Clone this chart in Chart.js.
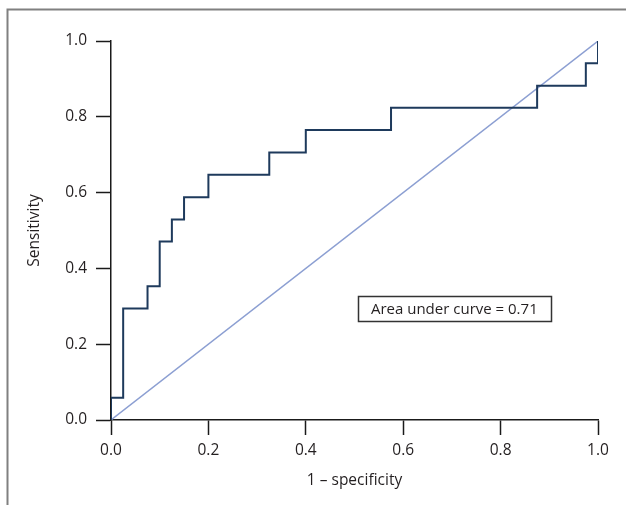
<!DOCTYPE html>
<html>
<head>
<meta charset="utf-8">
<script src="https://cdn.jsdelivr.net/npm/chart.js@4"></script>
<style>
  html, body { margin: 0; padding: 0; background: #fff; }
  #rocChart { display: block; }
</style>
</head>
<body>
<canvas id="rocChart" width="626" height="505"></canvas>
<script>
// ROC curve (17 positives, 40 negatives)
const falsePositiveRate = [0, 0, 0.025, 0.075, 0.1, 0.125, 0.15, 0.2, 0.325, 0.4, 0.575, 0.875, 0.975, 1];
const truePositiveRate = [0, 0.059, 0.294, 0.353, 0.471, 0.529, 0.588, 0.647, 0.706, 0.765, 0.824, 0.882, 0.941, 1];
const chanceX = [0, 1];
const chanceY = [0, 1];
const tickValues = [0, 0.2, 0.4, 0.6, 0.8, 1.0];
const aucLabel = 'Area under curve = 0.71';

const FONT = '"Open Sans", "Noto Sans", sans-serif';
const INK = '#231f20';

document.addEventListener('DOMContentLoaded', () => {
  const canvas = document.getElementById('rocChart');

  // gray frame in the corner and the AUC box
  const decorations = {
    id: 'decorations',
    beforeDraw(chart) {
      const ctx = chart.ctx;
      ctx.save();
      ctx.fillStyle = '#fff';
      ctx.fillRect(0, 0, chart.width, chart.height);
      ctx.strokeStyle = '#808080';
      ctx.lineWidth = 2;
      ctx.beginPath();
      ctx.moveTo(7.5, chart.height);
      ctx.lineTo(7.5, 9.5);
      ctx.lineTo(chart.width, 9.5);
      ctx.stroke();
      ctx.restore();
    },
    afterDatasetsDraw(chart) {
      const ctx = chart.ctx;
      const cx = chart.scales.x.getPixelForValue(0.705);
      const cy = chart.scales.y.getPixelForValue(0.294);
      ctx.save();
      ctx.font = '15px ' + FONT;
      const w = ctx.measureText(aucLabel).width + 26;
      const h = 25;
      ctx.fillStyle = '#fff';
      ctx.fillRect(cx - w / 2, cy - h / 2, w, h);
      ctx.strokeStyle = '#333';
      ctx.lineWidth = 1.5;
      ctx.strokeRect(Math.round(cx - w / 2) + 0.5, Math.round(cy - h / 2) + 0.5, Math.round(w), h);
      ctx.fillStyle = INK;
      ctx.textAlign = 'center';
      ctx.textBaseline = 'middle';
      ctx.fillText(aucLabel, cx, cy + 1);
      ctx.restore();
    }
  };

  const axis = (title, fit) => ({
    type: 'linear',
    min: 0,
    max: 1,
    afterBuildTicks: (scale) => { scale.ticks = tickValues.map(v => ({ value: v })); },
    afterFit: fit,
    grid: {
      drawOnChartArea: false,
      drawTicks: true,
      tickLength: 15,
      tickWidth: 1.5,
      tickColor: '#1a1a1a'
    },
    border: { display: true, color: '#1a1a1a', width: 1.5 },
    ticks: {
      color: INK,
      font: { family: FONT, size: 15.5 },
      callback: (v) => Number(v).toFixed(1)
    },
    title: {
      display: true,
      text: title,
      color: INK,
      font: { family: FONT, size: 15.5 }
    }
  });

  const xAxis = axis('1 – specificity', (scale) => { scale.height = 85; });
  xAxis.ticks.padding = 6;
  xAxis.ticks.maxRotation = 0;
  xAxis.title.padding = { top: 0, bottom: 15 };

  const yAxis = axis('Sensitivity', (scale) => { scale.width = 111; });
  yAxis.ticks.padding = 9;
  yAxis.title.padding = { top: 25, bottom: 0 };

  new Chart(canvas, {
    type: 'scatter',
    data: {
      datasets: [
        {
          label: 'ROC',
          data: falsePositiveRate.map((x, i) => ({ x, y: truePositiveRate[i] })),
          showLine: true,
          stepped: 'before',
          borderColor: '#1e3a5c',
          borderWidth: 2,
          pointRadius: 0,
          fill: false
        },
        {
          label: 'Chance',
          data: chanceX.map((x, i) => ({ x, y: chanceY[i] })),
          showLine: true,
          borderColor: '#8c9fd2',
          borderWidth: 1.4,
          pointRadius: 0,
          fill: false
        }
      ]
    },
    options: {
      responsive: false,
      animation: false,
      devicePixelRatio: 1,
      layout: { padding: { left: 0, right: 28, top: 41, bottom: 0 } },
      plugins: {
        legend: { display: false },
        tooltip: { enabled: false }
      },
      scales: { x: xAxis, y: yAxis }
    },
    plugins: [decorations]
  });
});
</script>
</body>
</html>
